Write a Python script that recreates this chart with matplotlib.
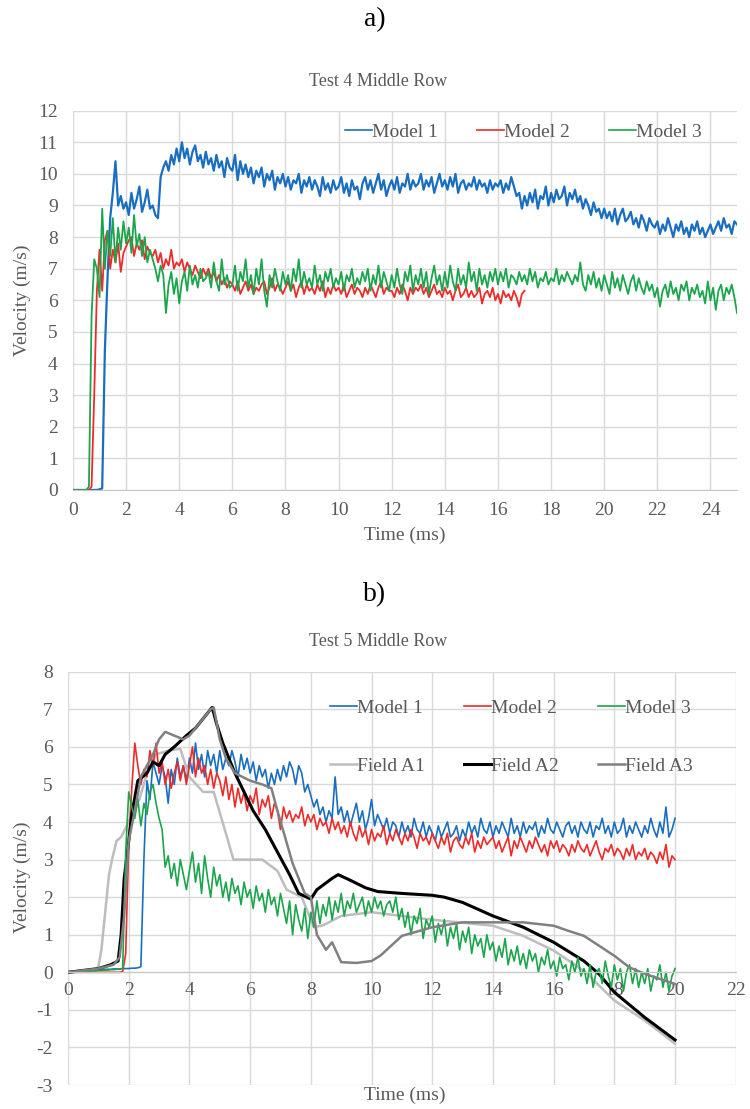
import numpy as np
import matplotlib
matplotlib.use("Agg")
import matplotlib.pyplot as plt

plt.rcParams['font.family'] = ['Liberation Serif', 'DejaVu Serif']
plt.rcParams['axes.unicode_minus'] = False

DT = 0.1  # sampling step of the model traces (ms)

# ---------------- Test 4 (panel a) ----------------
t4_model1 = [
    0, 0, 0, 0, 0, 0, 0, 0, 0, 0,
    0.02, 0.05, 4.4, 6.7, 8.6, 9.4, 10.4, 9.0, 9.3, 8.9,
    9.1, 8.7, 9.4, 8.9, 9.2, 9.6, 8.8, 9.1, 9.5, 8.9,
    9.0, 8.7, 8.6, 9.9, 10.2, 10.4, 10.1, 10.6, 10.3, 10.8,
    10.4, 11.0, 10.5, 10.8, 10.3, 10.7, 10.9, 10.4, 10.6, 10.2,
    10.7, 10.3, 10.5, 10.1, 10.6, 10.2, 10.4, 9.9, 10.5, 10.2,
    10.1, 10.6, 9.8, 10.4, 10.0, 10.3, 9.9, 10.2, 9.7, 10.1,
    9.9, 10.2, 9.6, 10.0, 9.8, 10.1, 9.5, 9.9, 9.7, 10.0,
    9.6, 9.9, 9.5, 9.8, 9.7, 10.0, 9.4, 9.8, 9.6, 9.9,
    9.5, 9.8, 9.6, 9.3, 9.9, 9.5, 9.7, 9.4, 9.8, 9.5,
    9.6, 9.9, 9.4, 9.7, 9.3, 9.8, 9.5, 9.6, 9.2, 9.7,
    9.9, 9.5, 9.8, 9.4, 9.7, 10.0, 9.5, 9.8, 9.3, 9.6,
    9.8, 9.5, 9.9, 9.4, 9.7, 9.6, 10.0, 9.5, 9.8, 9.6,
    9.7, 10.0, 9.5, 9.8, 9.6, 9.9, 9.4, 9.7, 10.0, 9.6,
    9.8, 9.5, 9.9, 9.6, 10.0, 9.4, 9.7, 9.8, 9.5, 9.7,
    9.6, 9.9, 9.5, 9.8, 9.6, 9.7, 9.4, 9.8, 9.5, 9.7,
    9.6, 9.8, 9.4, 9.7, 9.5, 9.9, 9.6, 9.3, 9.4, 8.9,
    9.3, 9.0, 9.4, 9.1, 9.5, 8.9, 9.3, 9.2, 9.6, 9.0,
    9.4, 9.1, 9.5, 9.2, 9.3, 9.6, 9.0, 9.4, 9.2, 9.5,
    9.1, 9.3, 8.9, 9.2, 9.0, 8.7, 9.1, 8.8, 8.9, 8.6,
    8.9, 8.6, 8.8, 8.5, 8.9, 8.4, 8.7, 8.9, 8.5, 8.6,
    8.8, 8.4, 8.6, 8.3, 8.7, 8.5, 8.2, 8.6, 8.4, 8.3,
    8.5, 8.1, 8.4, 8.2, 8.6, 8.3, 8.0, 8.4, 8.2, 8.5,
    8.1, 8.3, 8.0, 8.4, 8.2, 8.5, 8.1, 8.3, 8.0, 8.2,
    8.4, 8.1, 8.3, 8.5, 8.2, 8.6, 8.3, 8.4, 8.1, 8.5, 8.4,
]
t4_model2 = [
    0, 0, 0, 0, 0, 0, 0, 0.1, 3.0, 6.3,
    7.6, 6.3, 7.9, 8.2, 7.0, 7.6, 7.2, 7.8, 6.9, 7.5,
    7.7, 7.9, 8.0, 7.4, 7.8, 7.6, 7.9, 7.3, 7.7, 7.5,
    7.4, 7.6, 7.2, 7.5, 7.0, 7.3, 7.1, 7.6, 7.0, 7.2,
    7.1, 7.3, 6.9, 7.2, 7.0, 6.8, 7.1, 6.9, 6.7, 7.0,
    6.8, 7.0, 6.7, 6.9, 6.6, 6.8, 6.5, 6.7, 6.4, 6.6,
    6.5, 6.3, 6.6, 6.2, 6.4, 6.6, 6.3, 6.5, 6.2, 6.4,
    6.3, 6.5, 6.6, 6.2, 6.4, 6.7, 6.3, 6.5, 6.4, 6.2,
    6.4, 6.6, 6.3, 6.5, 6.1, 6.4, 6.6, 6.2, 6.5, 6.3,
    6.4, 6.2, 6.5, 6.3, 6.6, 6.1, 6.4, 6.2, 6.5, 6.3,
    6.4, 6.2, 6.5, 6.1, 6.3, 6.5, 6.2, 6.4, 6.3, 6.1,
    6.4, 6.2, 6.5, 6.3, 6.1, 6.4, 6.6, 6.2, 6.4, 6.3,
    6.3, 6.1, 6.4, 6.2, 6.5, 6.3, 6.0, 6.4, 6.2, 6.4,
    6.3, 6.5, 6.2, 6.4, 6.1, 6.3, 6.5, 6.2, 6.3, 6.1,
    6.4, 6.2, 6.3, 6.0, 6.3, 6.5, 6.1, 6.2, 6.4, 6.1,
    6.3, 6.1, 6.2, 6.4, 5.9, 6.2, 6.3, 6.1, 6.4, 6.0,
    6.2, 5.9, 6.3, 6.1, 6.2, 6.0, 6.3, 6.1, 5.8, 6.2, 6.3,
]
t4_model3 = [
    0, 0, 0, 0, 0, 0, 0.1, 5.5, 7.3, 7.0,
    6.1, 8.9, 7.0, 8.2, 7.4, 8.6, 7.2, 8.3, 7.6, 8.5,
    7.8, 8.3, 7.5, 8.7, 7.7, 8.1, 7.4, 8.0, 7.2, 7.6,
    7.3, 7.0, 6.6, 7.1, 6.8, 5.6, 6.5, 6.9, 6.2, 6.7,
    5.9, 6.6, 6.9, 6.3, 7.1, 6.5, 6.8, 6.4, 7.0, 6.6,
    6.7, 6.9, 6.4, 7.2, 6.6, 6.3, 7.3, 6.5, 6.8, 6.4,
    6.5, 7.1, 6.3, 6.9, 6.6, 7.3, 6.4, 6.8, 6.2, 7.0,
    6.5, 7.3, 6.3, 5.8, 6.8, 6.4, 7.0, 6.6, 6.3, 6.9,
    6.5, 6.8, 6.3, 7.0, 6.6, 7.3, 6.4, 6.9, 6.5, 6.7,
    6.4, 7.1, 6.5, 6.8, 6.3, 6.9, 6.6, 7.0, 6.4, 6.7,
    6.5, 6.9, 6.3, 6.8, 6.6, 7.0, 6.4, 6.7, 6.5, 6.9,
    6.6, 7.0, 6.3, 6.8, 6.5, 7.1, 6.4, 6.9, 6.6, 6.3,
    6.8, 6.4, 7.0, 6.5, 6.2, 6.9, 6.6, 7.1, 6.3, 6.8,
    6.5, 7.0, 6.4, 6.9, 6.2, 6.7, 7.1, 6.5, 6.8, 6.3,
    6.9, 6.4, 7.1, 6.6, 6.3, 7.0, 6.5, 6.8, 6.4, 7.2,
    6.6, 6.9, 6.3, 7.0, 6.5, 6.8, 6.4, 6.9, 6.6, 7.0,
    6.5, 6.9, 6.6, 7.0, 6.4, 6.8, 6.7, 6.5, 6.9, 6.6,
    6.8, 6.5, 7.0, 6.6, 6.9, 6.4, 6.7, 6.6, 6.9, 6.5,
    6.7, 6.6, 7.0, 6.5, 6.8, 6.6, 6.9, 6.7, 6.5, 6.8,
    6.6, 7.2, 6.5, 6.3, 6.8, 6.5, 6.9, 6.4, 6.7, 6.3,
    6.8, 6.5, 6.2, 6.9, 6.4, 6.7, 6.3, 6.8, 6.5, 6.2,
    6.6, 6.8, 6.3, 6.7, 6.4, 6.2, 6.6, 6.3, 6.5, 6.1,
    6.4, 5.8, 6.3, 6.5, 6.1, 6.6, 6.2, 6.4, 6.0, 6.5,
    6.3, 6.6, 6.0, 6.4, 6.2, 6.5, 6.1, 6.3, 5.9, 6.6,
    6.0, 6.4, 5.7, 6.3, 6.5, 6.0, 6.4, 6.2, 6.5, 6.1, 5.6,
]

# ---------------- Test 5 (panel b) ----------------
t5_model1 = [
    0, 0, 0.01, 0.02, 0.03, 0.04, 0.05, 0.05, 0.06, 0.06,
    0.07, 0.07, 0.08, 0.08, 0.08, 0.09, 0.09, 0.09, 0.1, 0.1,
    0.1, 0.11, 0.11, 0.12, 0.15, 3.0, 5.1, 4.6, 5.6, 5.3,
    5.0, 5.5, 5.2, 4.5, 5.4, 5.0, 5.7, 5.2, 5.5, 5.1,
    5.7, 5.3, 6.1, 5.4, 5.8, 5.2, 5.9, 5.5, 5.8, 5.3,
    5.9, 5.4, 5.7, 5.5, 5.9, 5.6, 5.2, 5.8, 5.4, 5.7,
    5.3, 5.6, 5.1, 5.5, 5.2, 5.4, 4.9, 5.3, 5.0, 5.4,
    5.1, 5.5, 5.2, 5.6, 5.4, 5.0, 5.5, 5.3, 4.8, 5.0,
    4.7, 4.4, 4.6, 4.2, 4.4, 4.0, 4.3, 4.1, 5.2, 4.2,
    4.4, 4.0, 4.3, 3.9, 4.2, 4.5, 4.0, 4.3, 3.8, 4.1,
    4.6, 3.9, 4.2, 4.0, 3.8, 4.1, 3.7, 4.0, 3.9, 3.6,
    4.0, 3.7, 3.9, 3.6, 4.1, 3.8, 3.7, 4.0, 3.6, 3.9,
    3.7, 3.5, 3.9, 3.6, 3.8, 4.0, 3.6, 3.7, 3.9, 3.5,
    3.8, 3.6, 4.0, 3.7, 3.9, 3.6, 4.1, 3.8, 3.7, 4.0,
    3.6, 3.9, 3.7, 4.0, 3.8, 3.6, 4.1, 3.7, 3.9, 3.6,
    4.0, 3.7, 3.9, 3.8, 4.0, 3.6, 3.9, 3.7, 4.1, 3.8,
    3.7, 4.0, 3.8, 3.6, 3.9, 4.0, 3.7, 3.9, 3.6, 4.0,
    3.8, 3.7, 4.0, 3.6, 3.9, 3.8, 4.1, 3.7, 3.9, 3.6,
    4.0, 3.7, 3.8, 4.1, 3.6, 3.9, 3.7, 4.0, 3.8, 3.6,
    3.9, 3.7, 4.1, 3.8, 3.6, 4.0, 3.7, 4.4, 3.6, 3.8, 4.1,
]
t5_model2 = [
    0, 0, 0, 0, 0, 0, 0, 0, 0, 0,
    0, 0, 0, 0, 0, 0, 0, 0, 0.02, 0.5,
    3.4, 4.9, 6.1, 5.5, 5.0, 5.4, 5.2, 5.9, 5.5, 6.1,
    5.3, 5.6, 5.0, 5.4, 4.9, 5.3, 5.6, 5.1, 5.5, 5.0,
    5.5, 6.0, 5.2, 5.7, 5.3, 5.5, 5.0, 5.4, 4.9, 5.3,
    5.1, 4.7, 5.2, 4.6, 5.0, 4.4, 4.9, 4.5, 4.8, 4.3,
    4.7, 4.5, 4.9, 4.2, 4.6, 4.4, 4.7, 4.1, 4.5, 4.3,
    3.8, 4.4, 4.1, 4.3, 4.0, 4.2, 4.1, 4.4, 3.9, 4.2,
    4.0, 4.2, 3.8, 4.1, 3.9, 4.0, 3.7, 4.1, 3.8, 4.0,
    3.7, 3.9, 3.6, 4.0, 3.7, 3.5, 3.9, 3.6, 3.8, 3.4,
    3.8, 3.5, 3.7, 3.6, 3.9, 3.4, 3.7, 3.5, 3.8, 3.6,
    3.4, 3.7, 3.5, 3.8, 3.6, 3.3, 3.7, 3.5, 3.6, 3.4,
    3.7, 3.5, 3.3, 3.6, 3.4, 3.7, 3.2, 3.5, 3.6, 3.4,
    3.3, 3.6, 3.4, 3.7, 3.2, 3.5, 3.3, 3.6, 3.4, 3.5,
    3.6, 3.3, 3.5, 3.2, 3.4, 3.6, 3.1, 3.5, 3.3, 3.6,
    3.4, 3.2, 3.5, 3.3, 3.6, 3.4, 3.2, 3.4, 3.1, 3.5,
    3.3, 3.5, 3.2, 3.4, 3.3, 3.1, 3.4, 3.2, 3.5, 3.3,
    3.2, 3.4, 3.1, 3.3, 3.5, 3.2, 3.0, 3.3, 3.2, 3.4,
    3.1, 3.3, 3.2, 3.0, 3.3, 3.1, 3.4, 3.0, 3.2, 3.1,
    3.3, 3.0, 3.2, 3.1, 2.9, 3.2, 3.0, 3.4, 2.8, 3.1, 3.0,
]
t5_model3 = [
    0, 0, 0, 0.01, 0.02, 0.02, 0.03, 0.03, 0.04, 0.04,
    0.05, 0.05, 0.06, 0.06, 0.07, 0.07, 0.08, 0.08, 0.1, 3.2,
    4.8, 4.4, 4.1, 4.6, 3.9, 4.5, 4.2, 4.8, 5.0, 4.5,
    4.1, 3.8, 2.8, 3.1, 2.5, 2.9, 2.3, 3.0, 2.6, 2.2,
    2.7, 3.2, 2.4, 2.9, 2.1, 3.1, 2.5, 2.0, 2.8, 2.3,
    2.6, 2.0, 2.4, 1.9, 2.5, 2.1, 2.3, 1.8, 2.4, 2.0,
    2.2, 1.7, 2.3, 1.9, 2.1, 1.6, 2.2, 1.8, 2.0, 1.5,
    2.1, 1.7, 1.3, 1.9, 1.0, 1.8, 1.4, 1.1, 1.7, 0.9,
    1.6, 1.2, 1.9, 1.3, 1.8, 1.5, 2.0, 1.4, 1.9, 1.6,
    2.1, 1.5, 1.9, 1.7, 2.1, 1.6, 1.8, 2.0, 1.5, 1.9,
    1.6, 2.0, 1.7, 1.9, 1.5, 1.8, 1.9, 1.6, 2.0, 1.4,
    1.7, 1.2, 1.6, 1.0, 1.5, 1.3, 1.7, 0.9, 1.4, 1.2,
    1.5, 0.8, 1.3, 1.0, 1.4, 0.7, 1.2, 0.9, 1.3, 0.6,
    1.1, 0.8, 1.2, 0.5, 1.0, 0.7, 0.9, 0.4, 1.0, 0.6,
    0.8, 0.3, 0.7, 0.4, 0.9, 0.2, 0.6, 0.3, 0.7, 0.2,
    0.5, 0.1, 0.6, 0.3, 0.5, 0.0, 0.4, 0.2, 0.6, 0.1,
    0.3, -0.1, 0.4, 0.1, 0.2, -0.2, 0.3, 0.0, 0.4, -0.1,
    0.1, -0.3, 0.2, -0.4, 0.0, 0.1, -0.3, 0.3, -0.1, -0.4,
    0.2, -0.2, 0.1, -0.5, 0.0, 0.2, -0.3, 0.1, -0.4, 0.0,
    -0.3, 0.1, -0.5, -0.1, -0.2, 0.2, -0.4, 0.0, -0.5, -0.1, 0.1,
]

# field records (hand-read knots)
a1_t = [0, 0.9, 1.0, 1.1, 1.35, 1.45, 1.6, 1.75, 2.0, 2.2, 2.35, 2.6, 2.9, 3.3, 3.7,
        4.0, 4.45, 4.8, 5.2, 5.45, 5.9, 6.4, 6.9, 7.2, 7.7, 8.1, 8.4, 9.0, 10.0,
        11.0, 12.0, 13.5, 14.0, 15.0, 16.0, 17.0, 18.0, 19.0, 20.0]
a1_v = [0, 0.05, 0.15, 0.6, 2.6, 3.0, 3.5, 3.6, 4.0, 4.4, 4.6, 5.3, 5.8, 5.9, 5.95,
        5.2, 4.8, 4.8, 3.7, 3.0, 3.0, 3.0, 2.7, 2.2, 2.0, 1.2, 1.25, 1.5, 1.6,
        1.5, 1.4, 1.28, 1.24, 0.97, 0.58, 0.04, -0.75, -1.28, -1.9]

a2_t = [0, 1.0, 1.4, 1.65, 1.75, 1.85, 2.0, 2.1, 2.3, 2.6, 2.8, 3.0, 3.2, 3.5, 3.9,
        4.2, 4.5, 4.75, 4.9, 5.1, 5.3, 5.5, 5.8, 6.1, 6.5, 6.9, 7.3, 7.6, 8.0,
        8.2, 8.7, 8.9, 9.3, 9.8, 10.2, 11.0, 12.0, 12.4, 13.0, 14.0, 15.0, 16.0,
        17.0, 17.5, 18.0, 19.0, 20.0]
a2_v = [0, 0.1, 0.2, 0.3, 1.0, 2.5, 3.5, 4.2, 5.1, 5.3, 5.6, 5.5, 5.8, 6.0, 6.3,
        6.5, 6.8, 7.05, 6.6, 6.1, 5.7, 5.3, 4.8, 4.3, 3.8, 3.2, 2.6, 2.1, 1.95,
        2.2, 2.5, 2.6, 2.45, 2.25, 2.15, 2.1, 2.05, 2.0, 1.86, 1.5, 1.2, 0.8,
        0.3, -0.05, -0.53, -1.2, -1.8]

a3_t = [0, 1.0, 1.5, 1.7, 1.85, 2.0, 2.2, 2.4, 2.8, 3.0, 3.2, 3.5, 3.8, 4.0, 4.3,
        4.7, 4.8, 5.0, 5.2, 5.5, 6.0, 6.4, 6.7, 6.9, 7.4, 7.8, 8.0, 8.2, 8.5,
        8.7, 9.0, 9.5, 10.0, 10.3, 11.0, 12.0, 13.0, 14.0, 15.0, 16.0, 16.5,
        17.0, 18.0, 18.5, 19.0, 20.0]
a3_v = [0, 0.1, 0.2, 0.4, 1.5, 3.5, 4.3, 5.2, 5.8, 6.2, 6.4, 6.3, 6.2, 6.3, 6.6,
        7.0, 7.05, 6.2, 5.7, 5.3, 5.1, 5.0, 4.9, 4.3, 2.9, 2.1, 2.0, 1.0, 0.6,
        0.8, 0.27, 0.25, 0.3, 0.45, 0.97, 1.2, 1.33, 1.33, 1.33, 1.24, 1.1,
        0.97, 0.44, 0.13, -0.04, -0.31]

BLUE = '#1a6ec0'
RED = '#ee2b2b'
GREEN = '#1ca54c'
TXT = '#595959'
GRID = '#d9d9d9'


def times(vals):
    return np.arange(len(vals)) * DT


def style_axes(ax, xlim, ylim, xstep, ypad_pt, xpad_pt):
    ax.set_xlim(*xlim)
    ax.set_ylim(*ylim)
    ax.set_xticks(np.arange(xlim[0], xlim[1] + 0.01, xstep))
    ax.set_yticks(np.arange(ylim[0], ylim[1] + 0.01, 1))
    ax.grid(True, color=GRID, linewidth=1.0)
    ax.set_axisbelow(True)
    for s in ['top', 'right', 'left']:
        ax.spines[s].set_visible(False)
    ax.spines['bottom'].set_color('#c8c8c8')
    ax.tick_params(axis='both', length=0, labelsize=14, colors=TXT)
    ax.tick_params(axis='y', pad=ypad_pt)
    ax.tick_params(axis='x', pad=xpad_pt)


fig = plt.figure(figsize=(7.5, 11.09), dpi=100)

# ---- panel a ----
ax1 = fig.add_axes([0.0973, 0.5582, 0.8854, 0.3420])
ax1.plot(times(t4_model1), t4_model1, color=BLUE, lw=1.6, label='Model 1')
ax1.plot(times(t4_model2), t4_model2, color=RED, lw=1.3, label='Model 2')
ax1.plot(times(t4_model3), t4_model3, color=GREEN, lw=1.3, label='Model 3')
style_axes(ax1, (0, 25), (0, 12), 2, 11, 9)
ax1.set_xlim(0, 25)
leg1 = ax1.legend(loc='center left', bbox_to_anchor=(345 / 750, 1 - 132 / 1109),
                  bbox_transform=fig.transFigure, ncol=3, frameon=False,
                  fontsize=14, handlelength=1.4, handletextpad=0.0,
                  columnspacing=2.0, borderpad=0, borderaxespad=0, labelcolor=TXT)
for h in leg1.legend_handles:
    h.set_linewidth(1.2)

fig.text(0.5, 1 - 20 / 1109, 'a)', ha='center', va='center', fontsize=20)
fig.text(378 / 750, 1 - 82 / 1109, 'Test 4 Middle Row', ha='center',
         va='center', fontsize=13, color=TXT)
fig.text(405 / 750, 1 - 535 / 1109, 'Time (ms)', ha='center', va='center',
         fontsize=14, color=TXT)
fig.text(22 / 750, 1 - 300 / 1109, 'Velocity (m/s)', ha='center',
         va='center', rotation=90, fontsize=14, color=TXT)

# ---- panel b ----
ax2 = fig.add_axes([0.0907, 0.0216, 0.8903, 0.3727])
ax2.plot(times(t5_model1), t5_model1, color=BLUE, lw=1.2, label='Model 1')
ax2.plot(a1_t, a1_v, color='#bdbdbd', lw=1.8, label='Field A1')
ax2.plot(times(t5_model2), t5_model2, color=RED, lw=1.2, label='Model 2')
ax2.plot(a2_t, a2_v, color='black', lw=2.2, label='Field A2')
ax2.plot(times(t5_model3), t5_model3, color=GREEN, lw=1.2, label='Model 3')
ax2.plot(a3_t, a3_v, color='#808080', lw=1.8, label='Field A3')
style_axes(ax2, (0, 22), (-3, 8), 2, 11, 7)
ax2.spines['bottom'].set_position(('data', 0))
ax2.legend(loc='center left', bbox_to_anchor=(330 / 750, 1 - 737 / 1109),
           bbox_transform=fig.transFigure, ncol=3, frameon=False,
           fontsize=14, handlelength=1.4, handletextpad=0.0,
           columnspacing=2.0, labelspacing=2.1, borderpad=0,
           borderaxespad=0, labelcolor=TXT)

fig.text(0.5, 1 - 595 / 1109, 'b)', ha='center', va='center', fontsize=20)
fig.text(378 / 750, 1 - 642 / 1109, 'Test 5 Middle Row', ha='center',
         va='center', fontsize=13, color=TXT)
fig.text(405 / 750, 1 - 1095 / 1109, 'Time (ms)', ha='center', va='center',
         fontsize=14, color=TXT)
fig.text(22 / 750, 1 - 877 / 1109, 'Velocity (m/s)', ha='center',
         va='center', rotation=90, fontsize=14, color=TXT)

fig.savefig('out.png', dpi=100)
